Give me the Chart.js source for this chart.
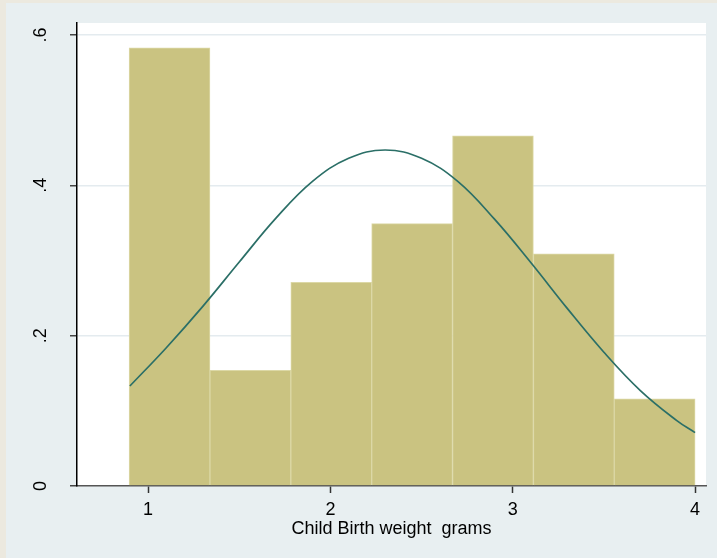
<!DOCTYPE html>
<html>
<head>
<meta charset="utf-8">
<script src="https://cdn.jsdelivr.net/npm/chart.js@4"></script>
<style>
  html, body { margin: 0; padding: 0; background: #ece9df; }
  canvas { display: block; }
</style>
</head>
<body>
<canvas id="histChart" width="717" height="558"></canvas>
<script>
// histogram bins (edges) and their density heights
const binEdges = [0.896, 1.339, 1.783, 2.226, 2.670, 3.113, 3.557, 4.0];
const density = [0.583, 0.154, 0.271, 0.349, 0.466, 0.309, 0.116];

// normal density overlay
const curveX = [0.9, 1.1, 1.3, 1.5, 1.7, 1.9, 2.1, 2.3, 2.5, 2.7, 2.9, 3.1, 3.3, 3.5, 3.7, 3.9, 4.0];
const curveY = [0.133, 0.184, 0.239, 0.298, 0.356, 0.405, 0.436, 0.447, 0.436, 0.405, 0.355, 0.297, 0.236, 0.178, 0.127, 0.087, 0.071];

const xTicks = [1, 2, 3, 4];
const yTicks = [0, 0.2, 0.4, 0.6];

// backgrounds: beige frame, grey-blue graph region, white plot
const backdrop = {
  id: "backdrop",
  beforeDraw(chart) {
    const ctx = chart.ctx;
    const area = chart.chartArea;
    ctx.save();
    ctx.fillStyle = "#ece9df";
    ctx.fillRect(0, 0, chart.width, chart.height);
    ctx.fillStyle = "#e8eff1";
    ctx.fillRect(6, 3, chart.width - 6, chart.height - 3);
    ctx.fillStyle = "#ffffff";
    ctx.fillRect(area.left, area.top, area.right - area.left, area.bottom - area.top);
    ctx.restore();
  }
};

function histogram() {
  const ctx = document.getElementById("histChart").getContext("2d");

  const bars = density.map((d, i) => ({ x: (binEdges[i] + binEdges[i + 1]) / 2, y: d }));
  const curve = curveX.map((x, i) => ({ x: x, y: curveY[i] }));

  const data = {
    datasets: [
      {
        type: "line",
        label: "Normal",
        data: curve,
        borderColor: "#2b6f67",
        borderWidth: 1.7,
        pointRadius: 0,
        tension: 0.4,
        fill: false,
        order: 0,
      },
      {
        type: "bar",
        label: "Density",
        data: bars,
        backgroundColor: "#cac381",
        borderColor: "#dcd8a6",
        borderWidth: 1,
        barPercentage: 1,
        categoryPercentage: 1,
        order: 1,
      },
    ],
  };

  const options = {
    responsive: false,
    animation: false,
    devicePixelRatio: 1,
    layout: { padding: { left: 6, top: 23, right: 11, bottom: 0 } },
    plugins: {
      legend: { display: false },
      tooltip: { enabled: false },
    },
    scales: {
      x: {
        type: "linear",
        min: 0.61,
        max: 4.06,
        offset: false,
        afterBuildTicks: (s) => { s.ticks = xTicks.map((v) => ({ value: v })); },
        afterFit: (s) => { s.height = 72; },
        ticks: {
          font: { family: "Liberation Sans", size: 18 },
          color: "#000",
          padding: 6,
          maxRotation: 0,
          callback: (v) => String(v),
        },
        grid: { offset: false, drawOnChartArea: false, tickLength: 7, tickColor: "#333", tickWidth: 1.5 },
        border: { color: "#555", width: 1.5 },
        title: {
          display: true,
          text: "Child Birth weight  grams",
          font: { family: "Liberation Sans", size: 18 },
          color: "#000",
          padding: { top: 0, bottom: 18 },
        },
      },
      y: {
        type: "linear",
        min: 0,
        max: 0.616,
        afterBuildTicks: (s) => { s.ticks = yTicks.map((v) => ({ value: v })); },
        afterFit: (s) => { s.width = 71; s.paddingTop = 0; s.paddingBottom = 0; },
        ticks: {
          font: { family: "Liberation Sans", size: 18 },
          color: "#000",
          minRotation: 90,
          maxRotation: 90,
          crossAlign: "center",
          padding: 21,
          callback: (v) => (v === 0 ? "0" : String(v).replace(/^0/, "")),
        },
        grid: {
          color: (c) => (c.tick && c.tick.value === 0 ? "rgba(0,0,0,0)" : "#e4ebef"),
          lineWidth: 1.5,
          tickColor: "#444",
          tickLength: 7,
          tickWidth: 1.5,
        },
        border: { color: "#000", width: 1.5 },
      },
    },
  };

  new Chart(ctx, {
    type: "bar",
    data: data,
    options: options,
    plugins: [backdrop],
  });
}

histogram();
</script>
</body>
</html>
